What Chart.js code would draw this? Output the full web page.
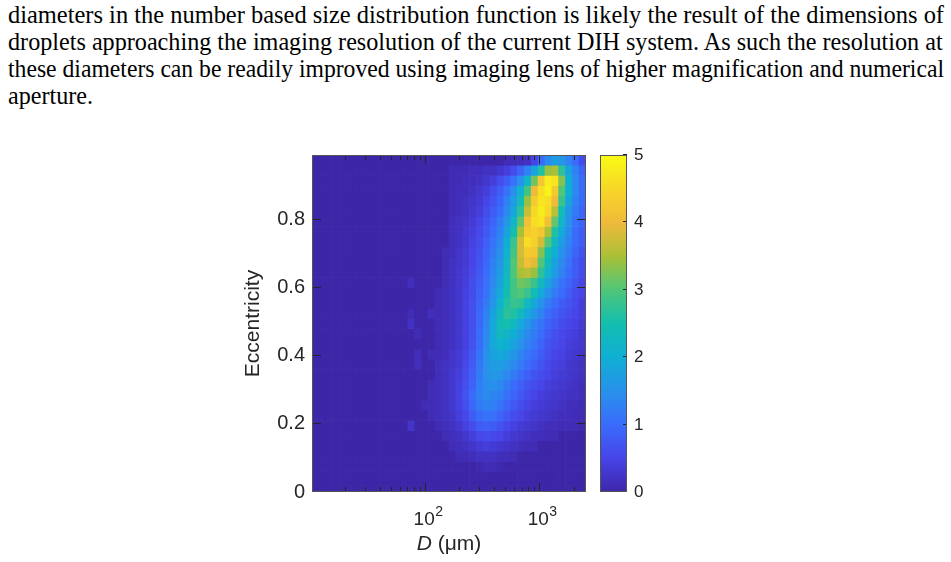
<!DOCTYPE html>
<html>
<head>
<meta charset="utf-8">
<script src="https://cdn.jsdelivr.net/npm/chart.js@4/dist/chart.umd.min.js"></script>
<style>
  html, body { margin:0; padding:0; background:#fff; width:951px; height:562px; overflow:hidden; }
  #para { position:absolute; left:8px; top:1px; width:936px; font-family:"Liberation Serif","Times New Roman",serif; font-size:26px; line-height:27px; color:#000; }
  #para div { white-space:nowrap; transform-origin:0 0; height:27px; }
  canvas { position:absolute; left:0; top:0; }
  .cbl { position:absolute; font-family:"Liberation Sans", Arial, sans-serif; font-size:17px; line-height:20px; height:20px; color:#262626; }
</style>
</head>
<body>
<div id="para"></div>
<canvas id="heat" width="951" height="562"></canvas>
<canvas id="cbar" width="951" height="562"></canvas>
<div id="cblabels"></div>
<script>
// ---------------- text ----------------
const paragraphLines = [
  "diameters in the number based size distribution function is likely the result of the dimensions of",
  "droplets approaching the imaging resolution of the current DIH system. As such the resolution at",
  "these diameters can be readily improved using imaging lens of higher magnification and numerical",
  "aperture."
];

// ---------------- axes / ticks ----------------
const xAxisTitleItalic = "D";
const xAxisTitleRest = " (μm)";
const yAxisTitle = "Eccentricity";
const dLogMin = 1.01;          // log10 of left limit (µm)
const dLogStep = 0.06;         // log10 width of a diameter bin
const dBinCount = 40;
const eccMax = 0.99;
const eccStep = 0.03;
const dMajorTicks = [100, 1000];
const dMajorBase = ["10", "10"];
const dMajorExponent = ["2", "3"];
const dMinorTicks = [20, 30, 40, 50, 60, 70, 80, 90, 200, 300, 400, 500, 600, 700, 800, 900, 2000];
const eccTicks = [0, 0.2, 0.4, 0.6, 0.8];
const eccTickLabels = ["0", "0.2", "0.4", "0.6", "0.8"];
const cbarTicks = [0, 1, 2, 3, 4, 5];
const cbarTickLabels = ["0", "1", "2", "3", "4", "5"];
const cbarMax = 5;

// ---------------- counts (rows from eccentricity 0.96–0.99 down to 0–0.03; 40 diameter bins each) ----------------
const densityRows = [
 [0,0,0,0,0,0,0,0,0,0,0,0,0,0, 0,0,0,0,0,0,0,0,0,0,0,0,0,0,0.1,0.1,0.15,0.2,0.5,1.0,1.4,1.7,1.6,1.3,1.0,0.6],
 [0,0,0,0,0,0,0,0,0,0,0,0,0,0, 0,0,0,0,0,0,0.1,0.1,0.1,0.15,0.15,0.2,0.2,0.3,0.4,0.6,0.9,1.3,1.8,2.6,3.4,3.5,2.7,1.8,1.3,0.9],
 [0,0,0,0,0,0,0,0,0,0,0,0,0,0, 0,0,0,0,0,0,0.1,0.1,0.15,0.15,0.2,0.3,0.4,0.6,0.8,1.1,1.5,2.2,3.2,4.2,4.8,4.7,3.3,2.0,1.4,1.0],
 [0,0,0,0,0,0,0,0,0,0,0,0,0,0, 0,0,0,0,0,0,0.1,0.15,0.15,0.2,0.3,0.4,0.6,0.8,1.1,1.5,2.1,2.9,4.0,4.6,4.9,4.3,3.0,2.0,1.4,1.0],
 [0,0,0,0,0,0,0,0,0,0,0,0,0,0, 0,0,0,0,0,0,0.1,0.15,0.2,0.25,0.35,0.5,0.7,0.9,1.3,1.7,2.4,3.4,4.3,4.7,4.6,4.0,2.8,1.8,1.3,1.0],
 [0,0,0,0,0,0,0,0,0,0,0,0,0,0, 0,0,0,0,0,0,0.1,0.15,0.2,0.3,0.4,0.6,0.8,1.0,1.4,1.9,2.7,3.7,4.5,4.8,4.5,3.6,2.4,1.6,1.2,0.9],
 [0,0,0,0,0,0,0,0,0,0,0,0,0,0, 0,0,0,0,0,0,0.15,0.2,0.25,0.35,0.5,0.7,0.9,1.2,1.6,2.2,3.1,4.1,4.6,4.7,4.1,3.1,2.2,1.5,1.1,0.9],
 [0,0,0,0,0,0,0,0,0,0,0,0,0,0, 0,0,0,0,0,0,0.15,0.2,0.3,0.4,0.55,0.75,1.0,1.3,1.8,2.5,3.5,4.3,4.4,4.2,3.5,2.6,1.9,1.4,1.0,0.8],
 [0,0,0,0,0,0,0,0,0,0,0,0,0,0, 0,0,0,0,0,0,0.15,0.2,0.3,0.45,0.6,0.85,1.1,1.4,2.0,2.8,3.8,4.6,4.4,3.8,3.0,2.3,1.7,1.3,1.0,0.8],
 [0,0,0,0,0,0,0,0,0,0,0,0,0,0, 0,0,0,0,0,0.1,0.15,0.25,0.35,0.5,0.65,0.9,1.2,1.5,2.1,2.9,3.8,4.3,4.2,3.3,2.5,2.0,1.5,1.2,0.9,0.7],
 [0,0,0,0,0,0,0,0,0,0,0,0,0,0, 0,0,0,0,0,0.1,0.2,0.25,0.35,0.5,0.7,0.95,1.3,1.6,2.2,3.0,3.7,4.1,3.9,3.0,2.3,1.8,1.4,1.1,0.8,0.6],
 [0,0,0,0,0,0,0,0,0,0,0,0,0,0, 0,0,0,0,0,0.1,0.2,0.3,0.4,0.55,0.75,1.0,1.35,1.7,2.3,3.0,3.5,3.6,3.4,2.7,2.1,1.7,1.3,1.0,0.8,0.6],
 [0,0,0,0,0,0,0,0,0,0,0,0,0,0, 0.15,0,0,0,0,0.1,0.2,0.3,0.4,0.6,0.8,1.05,1.4,1.8,2.4,2.9,3.2,3.1,2.8,2.3,1.8,1.4,1.1,0.9,0.7,0.5],
 [0,0,0,0,0,0,0,0,0,0,0,0,0,0, 0,0,0,0,0.1,0.15,0.2,0.3,0.45,0.6,0.85,1.1,1.5,1.9,2.5,2.9,3.0,2.8,2.4,1.9,1.5,1.2,1.0,0.8,0.6,0.5],
 [0,0,0,0,0,0,0,0,0,0,0,0,0,0, 0,0,0,0,0.1,0.15,0.2,0.3,0.45,0.65,0.9,1.2,1.6,2.1,2.6,2.8,2.7,2.3,1.9,1.5,1.2,1.0,0.8,0.7,0.55,0.4],
 [0,0,0,0,0,0,0,0,0,0,0,0,0,0, 0.1,0,0,0.15,0.1,0.15,0.2,0.3,0.45,0.65,0.95,1.3,1.8,2.3,2.7,2.6,2.3,1.9,1.6,1.3,1.0,0.85,0.7,0.6,0.5,0.4],
 [0,0,0,0,0,0,0,0,0,0,0,0,0,0, 0.2,0,0,0,0.1,0.15,0.2,0.3,0.45,0.65,0.95,1.35,1.9,2.4,2.5,2.3,1.9,1.6,1.3,1.1,0.9,0.75,0.6,0.5,0.45,0.35],
 [0,0,0,0,0,0,0,0,0,0,0,0,0,0, 0,0.1,0,0,0.1,0.15,0.2,0.3,0.45,0.65,1.0,1.4,1.9,2.3,2.2,2.0,1.7,1.4,1.2,1.0,0.8,0.65,0.55,0.45,0.4,0.3],
 [0,0,0,0,0,0,0,0,0,0,0,0,0,0, 0,0,0,0,0.1,0.15,0.2,0.3,0.45,0.7,1.0,1.45,1.9,2.1,2.0,1.8,1.5,1.3,1.1,0.9,0.7,0.6,0.5,0.4,0.35,0.3],
 [0,0,0,0,0,0,0,0,0,0,0,0,0,0, 0,0.15,0,0.1,0.1,0.15,0.25,0.35,0.5,0.75,1.1,1.5,1.8,1.9,1.8,1.6,1.35,1.15,1.0,0.8,0.65,0.5,0.45,0.35,0.3,0.25],
 [0,0,0,0,0,0,0,0,0,0,0,0,0,0, 0,0.15,0,0,0.15,0.2,0.25,0.35,0.55,0.8,1.15,1.5,1.7,1.7,1.6,1.4,1.2,1.0,0.85,0.7,0.55,0.45,0.4,0.3,0.25,0.2],
 [0,0,0,0,0,0,0,0,0,0,0,0,0,0, 0,0,0,0,0.15,0.2,0.3,0.4,0.6,0.85,1.2,1.5,1.6,1.55,1.4,1.2,1.0,0.85,0.7,0.6,0.5,0.4,0.35,0.3,0.25,0.2],
 [0,0,0,0,0,0,0,0,0,0,0,0,0,0, 0,0,0,0.1,0.15,0.2,0.3,0.45,0.65,0.9,1.25,1.45,1.5,1.4,1.2,1.0,0.85,0.7,0.6,0.5,0.4,0.35,0.3,0.25,0.2,0.15],
 [0,0,0,0,0,0,0,0,0,0,0,0,0,0, 0,0,0,0.1,0.15,0.2,0.3,0.45,0.7,1.0,1.3,1.4,1.35,1.25,1.05,0.9,0.75,0.6,0.5,0.4,0.35,0.3,0.25,0.2,0.2,0.15],
 [0,0,0,0,0,0,0,0,0,0,0,0,0,0, 0,0,0.1,0.1,0.15,0.2,0.3,0.45,0.65,0.95,1.2,1.3,1.25,1.1,0.9,0.75,0.6,0.5,0.4,0.35,0.3,0.25,0.2,0.15,0.15,0.1],
 [0,0,0,0,0,0,0,0,0,0,0,0,0,0, 0,0,0,0.1,0.15,0.2,0.25,0.4,0.55,0.8,1.0,1.1,1.05,0.9,0.75,0.6,0.5,0.4,0.35,0.3,0.25,0.2,0.15,0.15,0.1,0.1],
 [0,0,0,0,0,0,0,0,0,0,0,0,0,0, 0.25,0,0,0,0.1,0.15,0.2,0.3,0.45,0.6,0.8,0.85,0.8,0.7,0.55,0.45,0.35,0.3,0.25,0.2,0.15,0.15,0.1,0.1,0.1,0.05],
 [0,0,0,0,0,0,0,0,0,0,0,0,0,0, 0,0,0,0,0,0.1,0.15,0.2,0.3,0.4,0.55,0.6,0.55,0.5,0.4,0.3,0.25,0.2,0.15,0.15,0.1,0.1,0,0,0,0],
 [0,0,0,0,0,0,0,0,0,0,0,0,0,0, 0,0,0,0,0,0,0.1,0.15,0.2,0.25,0.35,0.4,0.35,0.3,0.25,0.2,0.15,0.1,0.1,0,0,0,0,0,0,0],
 [0,0,0,0,0,0,0,0,0,0,0,0,0,0, 0,0,0,0,0,0,0,0.1,0.1,0.15,0.2,0.2,0.2,0.15,0.15,0.1,0,0,0,0,0,0,0,0,0,0],
 [0,0,0,0,0,0,0,0,0,0,0,0,0,0, 0,0,0,0,0,0,0,0,0,0,0.05,0.1,0.1,0.05,0,0,0,0,0,0,0,0,0,0,0,0],
 [0,0,0,0,0,0,0,0,0,0,0,0,0,0, 0,0,0,0,0,0,0,0,0,0,0,0,0,0,0,0,0,0,0,0,0,0,0,0,0,0],
 [0,0,0,0,0,0,0,0,0,0,0,0,0,0, 0,0,0,0,0,0,0,0,0,0,0,0,0,0,0,0,0,0,0,0,0,0,0,0,0,0]
];

// ---------------- style ----------------
const parulaStops = [[62,38,168],[71,68,232],[58,108,252],[40,145,235],[15,175,212],[20,190,175],[80,198,120],[170,192,55],[240,186,58],[247,215,40],[249,251,20]];
function parula(t) {
  t = Math.max(0, Math.min(1, t));
  const s = t * (parulaStops.length - 1);
  const i = Math.min(parulaStops.length - 2, Math.floor(s));
  const f = s - i, a = parulaStops[i], b = parulaStops[i + 1];
  return `rgb(${Math.round(a[0] + (b[0] - a[0]) * f)},${Math.round(a[1] + (b[1] - a[1]) * f)},${Math.round(a[2] + (b[2] - a[2]) * f)})`;
}
const AX = '#262626';
const SANS = '"Liberation Sans", Arial, Helvetica, sans-serif';

// ---------------- paragraph ----------------
(function () {
  const para = document.getElementById('para');
  const mctx = document.createElement('canvas').getContext('2d');
  mctx.font = '26px "Liberation Serif"';
  const target = 936;
  let sum = 0, n = 0;
  const scales = paragraphLines.map((t, i) => {
    if (i === paragraphLines.length - 1) return null;
    const s = target / mctx.measureText(t).width;
    sum += s; n++;
    return s;
  });
  const avg = sum / n;
  paragraphLines.forEach((t, i) => {
    const d = document.createElement('div');
    d.textContent = t;
    d.style.transform = `scaleX(${scales[i] || avg})`;
    para.appendChild(d);
  });
})();

// ---------------- heat map ----------------
const dEdges = Array.from({ length: dBinCount + 1 }, (_, k) => Math.pow(10, dLogMin + dLogStep * k));
const nRows = densityRows.length;
const heatDatasets = densityRows.map((row, i) => {
  const r = nRows - 1 - i;
  const yc = r * eccStep + eccStep / 2;
  return {
    data: row.map((v, c) => ({ x: [dEdges[c], dEdges[c + 1]], y: yc })),
    backgroundColor: row.map(v => parula(v / cbarMax)),
    borderWidth: 0,
    grouped: false,
    barPercentage: 1,
    categoryPercentage: 1
  };
});

const boxTicks = {
  id: 'boxTicks',
  afterDatasetsDraw(chart) {
    const { ctx, chartArea: a, scales: { x, y } } = chart;
    ctx.save();
    ctx.strokeStyle = AX;
    ctx.lineWidth = 1;
    const L = (x1, y1, x2, y2) => { ctx.beginPath(); ctx.moveTo(x1, y1); ctx.lineTo(x2, y2); ctx.stroke(); };
    dMajorTicks.forEach(v => { const p = Math.round(x.getPixelForValue(v)) + 0.5; L(p, a.bottom, p, a.bottom - 9); L(p, a.top, p, a.top + 9); });
    dMinorTicks.forEach(v => { const p = Math.round(x.getPixelForValue(v)) + 0.5; L(p, a.bottom, p, a.bottom - 5); L(p, a.top, p, a.top + 5); });
    eccTicks.forEach(v => { const p = Math.round(y.getPixelForValue(v)) - 0.5; L(a.left, p, a.left + 9, p); L(a.right, p, a.right - 9, p); });
    ctx.strokeStyle = '#555';
    ctx.strokeRect(a.left + 0.5, a.top + 0.5, a.right - a.left - 1, a.bottom - a.top - 1);

    ctx.fillStyle = AX;
    ctx.textBaseline = 'alphabetic';
    ctx.textAlign = 'left';
    dMajorTicks.forEach((v, i) => {
      const px = x.getPixelForValue(v);
      ctx.font = '19px ' + SANS;
      const wb = ctx.measureText(dMajorBase[i]).width;
      ctx.font = '14px ' + SANS;
      const we = ctx.measureText(dMajorExponent[i]).width;
      const left = px + 3 - (wb + we) / 2;
      ctx.font = '19px ' + SANS;
      ctx.fillText(dMajorBase[i], left, 525);
      ctx.font = '14px ' + SANS;
      ctx.fillText(dMajorExponent[i], left + wb + 0.5, 516);
    });
    const cx = (a.left + a.right) / 2;
    ctx.font = 'italic 21px ' + SANS;
    const w1 = ctx.measureText(xAxisTitleItalic).width;
    ctx.font = '21px ' + SANS;
    const w2 = ctx.measureText(xAxisTitleRest).width;
    const x0 = cx - (w1 + w2) / 2;
    ctx.font = 'italic 21px ' + SANS;
    ctx.fillText(xAxisTitleItalic, x0, 550);
    ctx.font = '21px ' + SANS;
    ctx.fillText(xAxisTitleRest, x0 + w1, 550);
    ctx.restore();
  }
};

new Chart(document.getElementById('heat'), {
  type: 'bar',
  data: { datasets: heatDatasets },
  plugins: [boxTicks],
  options: {
    responsive: false,
    animation: false,
    events: [],
    indexAxis: 'y',
    layout: { padding: { left: 240, right: 365, top: 155, bottom: 0 } },
    plugins: { legend: { display: false }, tooltip: { enabled: false } },
    scales: {
      x: {
        type: 'logarithmic',
        min: Math.pow(10, dLogMin),
        max: Math.pow(10, dLogMin + dLogStep * dBinCount),
        grid: { display: false, drawTicks: false, tickLength: 0 },
        border: { display: false },
        afterBuildTicks: s => { s.ticks = dMajorTicks.map(v => ({ value: v, major: true })); },
        afterFit: s => { s.height = 70; },
        ticks: { display: false },
        title: { display: false }
      },
      y: {
        type: 'linear',
        min: 0, max: eccMax,
        offset: false,
        grid: { display: false, drawTicks: false, tickLength: 0, offset: false },
        border: { display: false },
        afterBuildTicks: s => { s.ticks = eccTicks.map(v => ({ value: v })); },
        afterFit: s => { s.width = 72; },
        ticks: {
          autoSkip: false, padding: 7, minRotation: 0, maxRotation: 0,
          color: AX, font: { family: SANS, size: 20 },
          callback: (v, i) => eccTickLabels[i]
        },
        title: { display: true, text: yAxisTitle, color: AX, font: { family: SANS, size: 21 }, padding: { top: 1, bottom: 0 } }
      }
    }
  }
});

// ---------------- colour bar ----------------
const cbarTicksPlugin = {
  id: 'cbarTicks',
  afterDatasetsDraw(chart) {
    const { ctx, chartArea: a, scales: { y } } = chart;
    ctx.save();
    ctx.strokeStyle = AX; ctx.lineWidth = 1;
    cbarTicks.forEach(v => {
      const p = Math.round(y.getPixelForValue(v)) - 0.5;
      ctx.beginPath(); ctx.moveTo(a.right, p); ctx.lineTo(a.right - 4, p); ctx.stroke();
    });
    ctx.strokeStyle = '#555';
    ctx.strokeRect(a.left + 0.5, a.top + 0.5, a.right - a.left - 1, a.bottom - a.top - 1);
    ctx.restore();
  }
};

const cbarChart = new Chart(document.getElementById('cbar'), {
  type: 'bar',
  data: {
    labels: ['c'],
    datasets: [{
      data: [[0, cbarMax]],
      borderWidth: 0,
      barPercentage: 1,
      categoryPercentage: 1,
      backgroundColor: (ctx) => {
        const a = ctx.chart.chartArea;
        if (!a) return parula(0.5);
        const g = ctx.chart.ctx.createLinearGradient(0, a.bottom, 0, a.top);
        for (let k = 0; k <= 50; k++) g.addColorStop(k / 50, parula(k / 50));
        return g;
      }
    }]
  },
  plugins: [cbarTicksPlugin],
  options: {
    responsive: false,
    animation: false,
    events: [],
    layout: { padding: { left: 600, right: 284, top: 155, bottom: 70 } },
    plugins: { legend: { display: false }, tooltip: { enabled: false } },
    scales: {
      x: { display: false },
      y: {
        position: 'right',
        min: 0, max: cbarMax,
        grid: { display: false, drawTicks: false, tickLength: 0 },
        border: { display: false },
        afterBuildTicks: s => { s.ticks = cbarTicks.map(v => ({ value: v })); },
        afterFit: s => { s.width = 40; },
        ticks: { display: false }
      }
    }
  }
});

// colour-bar tick labels as text, placed with the colour-bar scale
(function () {
  const holder = document.getElementById('cblabels');
  const a = cbarChart.chartArea, ys = cbarChart.scales.y;
  cbarTicks.forEach((v, i) => {
    const s = document.createElement('span');
    s.className = 'cbl';
    s.textContent = cbarTickLabels[i];
    s.style.left = (a.right + 7) + 'px';
    s.style.top = (ys.getPixelForValue(v) - 10) + 'px';
    holder.appendChild(s);
  });
})();
</script>
</body>
</html>
